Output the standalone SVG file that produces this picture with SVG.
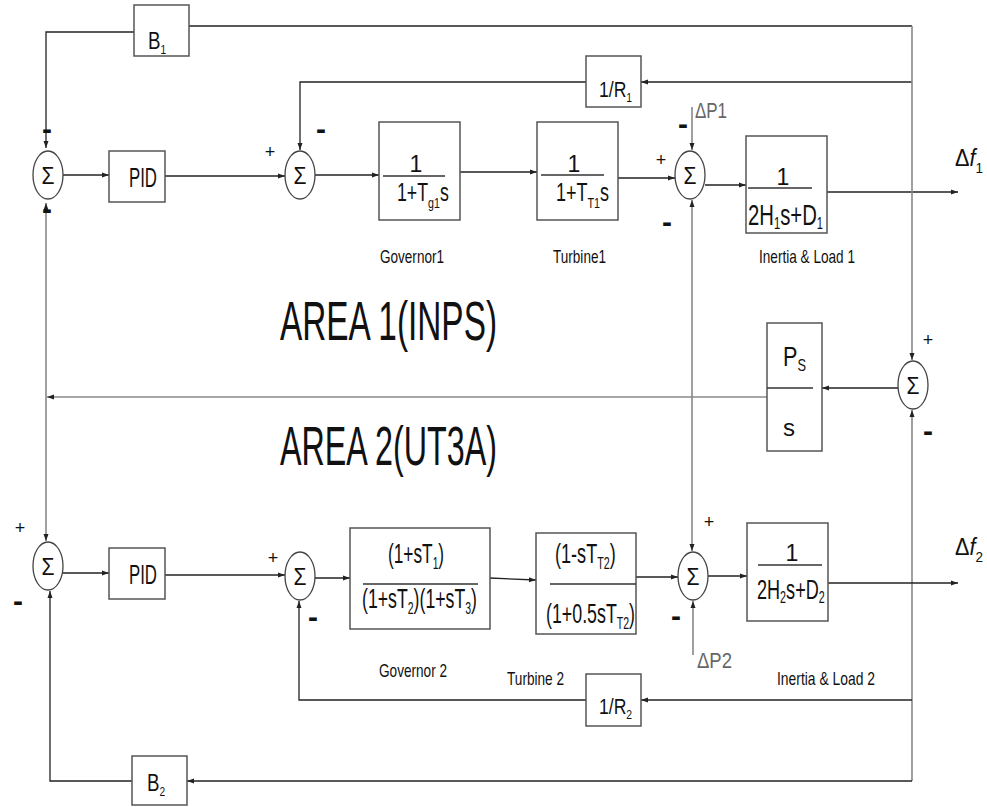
<svg xmlns="http://www.w3.org/2000/svg" width="987" height="807" viewBox="0 0 987 807">
<style>
.ln{stroke:#222;stroke-width:1.3;fill:none}
.lg{stroke:#888;stroke-width:1.6;fill:none}
.bx{fill:#fff;stroke:#555;stroke-width:1.5}
.sm{fill:#fff;stroke:#444;stroke-width:1.3}
.fr{stroke:#333;stroke-width:1.5}
text{font-family:"Liberation Sans Narrow","Liberation Sans",Arial,sans-serif;fill:#111}
.sg{font-size:24px;text-anchor:middle}
.mi{font-size:30px;font-weight:bold;text-anchor:middle}
.pl{font-size:18px;text-anchor:middle}
.lb{font-size:19px}
.dp{font-size:22px;fill:#666}
.big{font-size:56px}
</style>
<defs>
<marker id="ar" markerUnits="userSpaceOnUse" markerWidth="8" markerHeight="6" refX="7" refY="3" orient="auto">
<path d="M0,0.5 L7,3 L0,5.5 z" fill="#222"/>
</marker>
</defs>
<rect width="987" height="807" fill="#fff"/>
<g id="connectors">
<path class="ln" d="M912,26 H189"/>
<path class="ln" d="M134,32 H46 V148" marker-end="url(#ar)"/>
<path class="lg" d="M46,397 V203" marker-end="url(#ar)"/>
<path class="lg" d="M46,397 V541" marker-end="url(#ar)"/>
<path class="lg" d="M770,397 H47" marker-end="url(#ar)"/>
<path class="ln" d="M63,175 H109" marker-end="url(#ar)"/>
<path class="ln" d="M165,176 H285" marker-end="url(#ar)"/>
<path class="ln" d="M586,82 H300 V150" marker-end="url(#ar)"/>
<path class="ln" d="M912,82 H641" marker-end="url(#ar)"/>
<path class="ln" d="M315,175 H379" marker-end="url(#ar)"/>
<path class="ln" d="M460,172 H537" marker-end="url(#ar)"/>
<path class="ln" d="M618,178 H675" marker-end="url(#ar)"/>
<path class="lg" d="M692,107 V150" marker-end="url(#ar)"/>
<path class="lg" d="M692,397 V200" marker-end="url(#ar)"/>
<path class="lg" d="M692,397 V551" marker-end="url(#ar)"/>
<path class="ln" d="M705,185 H746" marker-end="url(#ar)"/>
<path class="ln" d="M827,192 H958" marker-end="url(#ar)"/>
<path class="lg" d="M912,26 V360" marker-end="url(#ar)"/>
<path class="lg" d="M912,781 V410" marker-end="url(#ar)"/>
<path class="ln" d="M898,388 H822" marker-end="url(#ar)"/>
<path class="ln" d="M63,573 H109" marker-end="url(#ar)"/>
<path class="ln" d="M165,575 H285" marker-end="url(#ar)"/>
<path class="ln" d="M586,700 H299 V601" marker-end="url(#ar)"/>
<path class="ln" d="M912,700 H641" marker-end="url(#ar)"/>
<path class="ln" d="M315,578 H350" marker-end="url(#ar)"/>
<path class="ln" d="M490,578 L536,580" marker-end="url(#ar)"/>
<path class="ln" d="M636,577 H678" marker-end="url(#ar)"/>
<path class="lg" d="M693,655 V601" marker-end="url(#ar)"/>
<path class="ln" d="M708,576 H747" marker-end="url(#ar)"/>
<path class="ln" d="M828,583 H958" marker-end="url(#ar)"/>
<path class="ln" d="M912,781 H187" marker-end="url(#ar)"/>
<path class="ln" d="M132,781 H50 V591" marker-end="url(#ar)"/>
</g>
<g id="B1"><rect class="bx" x="134" y="5" width="55" height="51"/><text transform="translate(148,49) scale(0.78,1)" font-size="24">B<tspan font-size="13" dy="5">1</tspan></text></g>
<g id="sum1"><ellipse class="sm" cx="48" cy="175" rx="15" ry="24"/><text class="sg" x="48" y="184" textLength="13" lengthAdjust="spacingAndGlyphs">Σ</text>
<text class="mi" x="47" y="139">-</text><text class="mi" x="47" y="219">-</text></g>
<g id="PID1"><rect class="bx" x="109" y="151" width="56" height="51"/><text x="129" y="187" font-size="27" textLength="28" lengthAdjust="spacingAndGlyphs">PID</text></g>
<g id="sum2"><ellipse class="sm" cx="300" cy="175" rx="15" ry="24"/><text class="sg" x="300" y="184" textLength="13" lengthAdjust="spacingAndGlyphs">Σ</text>
<text class="pl" x="270" y="158">+</text><text class="mi" x="321" y="139">-</text></g>
<g id="R1"><rect class="bx" x="586" y="56" width="55" height="51"/><text transform="translate(599,97) scale(0.8,1)" font-size="22">1/R<tspan font-size="13" dy="5">1</tspan></text></g>
<g id="Governor1"><rect class="bx" x="379" y="122" width="81" height="98"/>
<text x="416" y="172" font-size="23" text-anchor="middle">1</text>
<line class="fr" x1="383" y1="176" x2="445" y2="176"/>
<text transform="translate(397,201) scale(0.71,1)" font-size="25">1+T<tspan font-size="15" dy="7">g1</tspan><tspan dy="-7">s</tspan></text>
<text class="lb" x="380" y="263" textLength="64" lengthAdjust="spacingAndGlyphs">Governor1</text></g>
<g id="Turbine1"><rect class="bx" x="537" y="122" width="81" height="98"/>
<text x="574" y="172" font-size="23" text-anchor="middle">1</text>
<line class="fr" x1="541" y1="175" x2="604" y2="175"/>
<text transform="translate(556,201) scale(0.72,1)" font-size="25">1+T<tspan font-size="15" dy="7">T1</tspan><tspan dy="-7">s</tspan></text>
<text class="lb" x="553" y="263" textLength="53" lengthAdjust="spacingAndGlyphs">Turbine1</text></g>
<g id="sum4"><ellipse class="sm" cx="690" cy="175" rx="15" ry="24"/><text class="sg" x="690" y="184" textLength="13" lengthAdjust="spacingAndGlyphs">Σ</text>
<text class="pl" x="661" y="166">+</text><text class="mi" x="683" y="134">-</text><text class="mi" x="667" y="232">-</text>
<text class="dp" x="695" y="118" textLength="32" lengthAdjust="spacingAndGlyphs">ΔP1</text></g>
<g id="Inertia1"><rect class="bx" x="746" y="136" width="81" height="97"/>
<text x="783" y="185" font-size="23" text-anchor="middle">1</text>
<line class="fr" x1="748" y1="188" x2="812" y2="188"/>
<text transform="translate(748,225) scale(0.7,1)" font-size="29">2H<tspan font-size="16" dy="4">1</tspan><tspan dy="-4">s+D</tspan><tspan font-size="16" dy="4">1</tspan></text>
<text class="lb" x="759" y="263" textLength="96" lengthAdjust="spacingAndGlyphs">Inertia &amp; Load 1</text></g>
<g id="df1"><text transform="translate(955,166) scale(0.9,1)" font-size="24">Δ<tspan font-style="italic">f</tspan><tspan font-size="15" dy="7">1</tspan></text></g>
<g id="area-labels">
<text class="big" x="280" y="340" textLength="217" lengthAdjust="spacingAndGlyphs">AREA 1(INPS)</text>
<text class="big" x="280" y="465" textLength="217" lengthAdjust="spacingAndGlyphs">AREA 2(UT3A)</text>
</g>
<g id="Ps"><rect class="bx" x="767" y="323" width="55" height="128"/>
<text transform="translate(783,366) scale(0.8,1)" font-size="27">P<tspan font-size="16" dy="5">S</tspan></text>
<line class="fr" x1="767" y1="388" x2="813" y2="388"/>
<text x="783" y="436" font-size="24">s</text></g>
<g id="sumR"><ellipse class="sm" cx="913" cy="385" rx="15" ry="24"/><text class="sg" x="913" y="394" textLength="13" lengthAdjust="spacingAndGlyphs">Σ</text>
<text class="pl" x="928" y="346">+</text><text class="mi" x="928" y="441">-</text></g>
<g id="sum3"><ellipse class="sm" cx="48" cy="566" rx="15" ry="24"/><text class="sg" x="48" y="575" textLength="13" lengthAdjust="spacingAndGlyphs">Σ</text>
<text class="pl" x="20" y="534">+</text><text class="mi" x="18" y="611">-</text></g>
<g id="PID2"><rect class="bx" x="109" y="548" width="56" height="51"/><text x="129" y="584" font-size="27" textLength="28" lengthAdjust="spacingAndGlyphs">PID</text></g>
<g id="sum6"><ellipse class="sm" cx="300" cy="576" rx="15" ry="24"/><text class="sg" x="300" y="585" textLength="13" lengthAdjust="spacingAndGlyphs">Σ</text>
<text class="pl" x="273" y="564">+</text><text class="mi" x="313" y="627">-</text></g>
<g id="Governor2"><rect class="bx" x="350" y="528" width="140" height="101"/>
<text transform="translate(388,563) scale(0.64,1)" font-size="27">(1+sT<tspan font-size="16" dy="6">1</tspan><tspan dy="-6">)</tspan></text>
<line class="fr" x1="363" y1="584" x2="478" y2="584"/>
<text transform="translate(362,608) scale(0.656,1)" font-size="27">(1+sT<tspan font-size="16" dy="6">2</tspan><tspan dy="-6">)(1+sT</tspan><tspan font-size="16" dy="6">3</tspan><tspan dy="-6">)</tspan></text>
<text class="lb" x="379" y="677" textLength="68" lengthAdjust="spacingAndGlyphs">Governor 2</text></g>
<g id="Turbine2"><rect class="bx" x="536" y="533" width="100" height="101"/>
<text transform="translate(555,563) scale(0.67,1)" font-size="27">(1-sT<tspan font-size="16" dy="6">T2</tspan><tspan dy="-6">)</tspan></text>
<line class="fr" x1="550" y1="584" x2="636" y2="584"/>
<text transform="translate(546,623) scale(0.66,1)" font-size="27">(1+0.5sT<tspan font-size="16" dy="6">T2</tspan><tspan dy="-6">)</tspan></text>
<text class="lb" x="507" y="685" textLength="57" lengthAdjust="spacingAndGlyphs">Turbine 2</text></g>
<g id="sum5"><ellipse class="sm" cx="693" cy="576" rx="15" ry="24"/><text class="sg" x="693" y="585" textLength="13" lengthAdjust="spacingAndGlyphs">Σ</text>
<text class="pl" x="709" y="528">+</text><text class="mi" x="676" y="626">-</text>
<text class="dp" x="697" y="668" textLength="35" lengthAdjust="spacingAndGlyphs">ΔP2</text></g>
<g id="Inertia2"><rect class="bx" x="747" y="523" width="81" height="98"/>
<text x="792" y="561" font-size="23" text-anchor="middle">1</text>
<line class="fr" x1="758" y1="565" x2="822" y2="565"/>
<text transform="translate(757,599) scale(0.67,1)" font-size="27">2H<tspan font-size="16" dy="4">2</tspan><tspan dy="-4">s+D</tspan><tspan font-size="16" dy="4">2</tspan></text>
<text class="lb" x="777" y="685" textLength="98" lengthAdjust="spacingAndGlyphs">Inertia &amp; Load 2</text></g>
<g id="df2"><text transform="translate(955,555) scale(0.9,1)" font-size="24">Δ<tspan font-style="italic">f</tspan><tspan font-size="15" dy="7">2</tspan></text></g>
<g id="R2"><rect class="bx" x="586" y="674" width="55" height="52"/><text transform="translate(599,714) scale(0.8,1)" font-size="22">1/R<tspan font-size="13" dy="5">2</tspan></text></g>
<g id="B2"><rect class="bx" x="132" y="756" width="55" height="49"/><text transform="translate(147,791) scale(0.78,1)" font-size="24">B<tspan font-size="13" dy="5">2</tspan></text></g>
</svg>
